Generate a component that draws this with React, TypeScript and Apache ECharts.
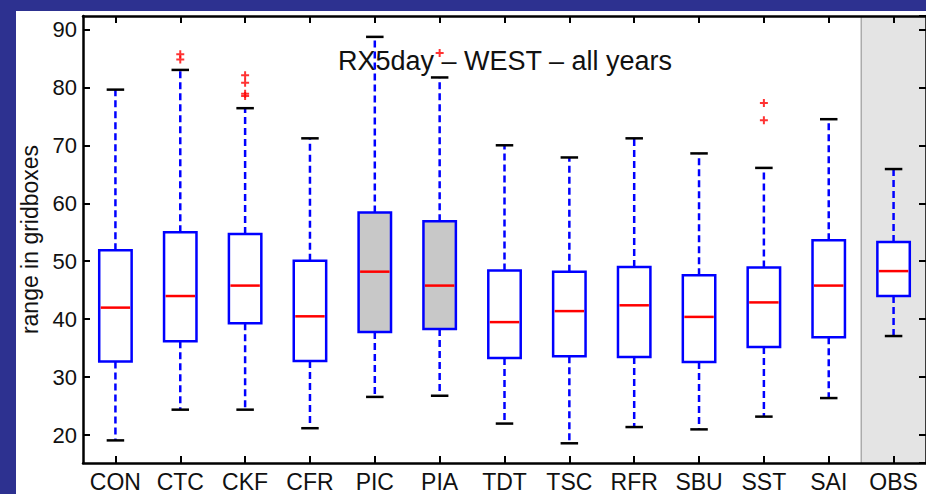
import React, { useEffect, useRef } from "react";
import * as echarts from "echarts";

const categories = ["CON", "CTC", "CKF", "CFR", "PIC", "PIA", "TDT", "TSC", "RFR", "SBU", "SST", "SAI", "OBS"];
const lowerWhisker = [19.1, 24.4, 24.4, 21.2, 26.6, 26.8, 22.0, 18.6, 21.4, 21.0, 23.2, 26.4, 37.1];
const lowerQuartile = [32.7, 36.2, 39.3, 32.8, 37.8, 38.3, 33.3, 33.6, 33.5, 32.6, 35.2, 36.9, 44.0];
const medians = [42.0, 44.0, 45.8, 40.5, 48.2, 45.8, 39.5, 41.4, 42.4, 40.4, 42.9, 45.8, 48.3];
const upperQuartile = [51.9, 55.0, 54.7, 50.1, 58.4, 56.9, 48.4, 48.2, 49.0, 47.6, 48.9, 53.6, 53.3];
const upperWhisker = [79.6, 83.0, 76.4, 71.2, 88.7, 81.7, 70.0, 67.9, 71.2, 68.6, 66.1, 74.5, 65.9];
const filledBoxes = ["PIC", "PIA"];
const outlierCategories = ["CTC", "CTC", "CKF", "CKF", "CKF", "CKF", "PIA", "SST", "SST"];
const outlierValues = [85.7, 84.8, 82.1, 80.8, 78.9, 78.5, 85.9, 77.3, 74.3];
const observedCategory = "OBS";
const yMin = 15.2;
const yMax = 92.3;
const titleText = "RX5day – WEST – all years";
const yAxisName = "range in gridboxes";

const FONT = "'Liberation Sans', Arial, Helvetica, sans-serif";
const BLUE = "#0000ff";
const RED = "#ff0000";

export default function App() {
  const ref = useRef<HTMLDivElement>(null);

  useEffect(() => {
    if (!ref.current) return;
    const chart = echarts.init(ref.current, undefined, { renderer: "svg" });

    const boxData = categories.map((c, i) => [
      i,
      lowerWhisker[i],
      lowerQuartile[i],
      medians[i],
      upperQuartile[i],
      upperWhisker[i],
      filledBoxes.includes(c) ? 1 : 0,
    ]);
    const outlierData = outlierCategories.map((c, i) => [categories.indexOf(c), outlierValues[i]]);

    const plus = "path://M3,0 L5,0 L5,3 L8,3 L8,5 L5,5 L5,8 L3,8 L3,5 L0,5 L0,3 L3,3 Z";

    const option: any = {
      animation: false,
      backgroundColor: "#2d3190",
      graphic: [
        {
          type: "rect",
          z: -100,
          shape: { x: 16, y: 11, width: 926, height: 494 },
          style: { fill: "#ffffff" },
        },
        {
          type: "text",
          z: 100,
          x: 505,
          y: 61,
          style: {
            text: titleText,
            fill: "#111",
            font: `27px ${FONT}`,
            textAlign: "center",
            textVerticalAlign: "middle",
          },
        },
      ],
      grid: { left: 83, top: 16, width: 845, height: 447, containLabel: false },
      xAxis: [
        {
          type: "category",
          data: categories,
          position: "bottom",
          axisLine: { show: true, lineStyle: { color: "#000", width: 2.5 } },
          axisTick: { show: true, inside: true, alignWithLabel: true, interval: 0, length: 7, lineStyle: { color: "#000", width: 2 } },
          axisLabel: { color: "#111", fontSize: 23, fontFamily: FONT, margin: 7, interval: 0, hideOverlap: false },
          splitLine: { show: false },
        },
        {
          type: "category",
          data: categories,
          position: "top",
          axisLine: { show: true, lineStyle: { color: "#000", width: 2.5 } },
          axisTick: { show: true, inside: true, alignWithLabel: true, interval: 0, length: 7, lineStyle: { color: "#000", width: 2 } },
          axisLabel: { show: false, interval: 0 },
          splitLine: { show: false },
        },
      ],
      yAxis: [
        {
          type: "value",
          min: yMin,
          max: yMax,
          splitNumber: 8,
          position: "left",
          name: yAxisName,
          nameLocation: "middle",
          nameGap: 38,
          nameTextStyle: { color: "#111", fontSize: 23, fontFamily: FONT },
          axisLine: { show: true, lineStyle: { color: "#000", width: 2.5 } },
          axisTick: { show: true, inside: true, length: 7, lineStyle: { color: "#000", width: 2 } },
          axisLabel: { color: "#111", fontSize: 22, fontFamily: FONT, margin: 6, showMinLabel: false, showMaxLabel: false },
          splitLine: { show: false },
        },
        {
          type: "value",
          min: yMin,
          max: yMax,
          splitNumber: 8,
          position: "right",
          axisLine: { show: true, lineStyle: { color: "#000", width: 2.5 } },
          axisTick: { show: true, inside: true, length: 7, lineStyle: { color: "#000", width: 2 } },
          axisLabel: { show: false },
          splitLine: { show: false },
        },
      ],
      series: [
        {
          type: "custom",
          name: "obs-shade",
          z: -10,
          silent: true,
          data: [[categories.indexOf(observedCategory), yMin]],
          encode: { x: 0, y: 1 },
          renderItem: (params: any, api: any) => {
            const cs = params.coordSys;
            const c = api.coord([api.value(0), api.value(1)]);
            const bw = api.size([1, 0])[0];
            const left = c[0] - bw / 2;
            return {
              type: "group",
              children: [
                {
                  type: "rect",
                  shape: { x: left, y: cs.y, width: cs.x + cs.width - left, height: cs.height },
                  style: { fill: "#e4e4e4" },
                },
                {
                  type: "line",
                  shape: { x1: left, y1: cs.y, x2: left, y2: cs.y + cs.height },
                  style: { stroke: "#8a8a8a", lineWidth: 1 },
                },
              ],
            };
          },
        },
        {
          type: "custom",
          name: "boxes",
          z: 3,
          data: boxData,
          encode: { x: 0, y: [1, 2, 3, 4, 5] },
          renderItem: (params: any, api: any) => {
            const x = api.value(0);
            const lo = api.coord([x, api.value(1)]);
            const qa = api.coord([x, api.value(2)]);
            const md = api.coord([x, api.value(3)]);
            const qb = api.coord([x, api.value(4)]);
            const hi = api.coord([x, api.value(5)]);
            const filled = api.value(6) === 1;
            const bw = api.size([1, 0])[0];
            const boxW = bw * 0.5;
            const capW = bw * 0.27;
            const cx = lo[0];
            return {
              type: "group",
              children: [
                {
                  type: "line",
                  shape: { x1: cx, y1: qb[1], x2: cx, y2: hi[1] },
                  style: { stroke: BLUE, lineWidth: 2.5, lineDash: [7, 4] },
                },
                {
                  type: "line",
                  shape: { x1: cx, y1: qa[1], x2: cx, y2: lo[1] },
                  style: { stroke: BLUE, lineWidth: 2.5, lineDash: [7, 4] },
                },
                {
                  type: "line",
                  shape: { x1: cx - capW / 2, y1: hi[1], x2: cx + capW / 2, y2: hi[1] },
                  style: { stroke: "#000", lineWidth: 2.5 },
                },
                {
                  type: "line",
                  shape: { x1: cx - capW / 2, y1: lo[1], x2: cx + capW / 2, y2: lo[1] },
                  style: { stroke: "#000", lineWidth: 2.5 },
                },
                {
                  type: "rect",
                  shape: { x: cx - boxW / 2, y: qb[1], width: boxW, height: qa[1] - qb[1] },
                  style: { fill: filled ? "#c8c8c8" : "#ffffff", stroke: BLUE, lineWidth: 2.5 },
                },
                {
                  type: "line",
                  shape: { x1: cx - boxW / 2 + 1.5, y1: md[1], x2: cx + boxW / 2 - 1.5, y2: md[1] },
                  style: { stroke: RED, lineWidth: 2.5 },
                },
              ],
            };
          },
        },
        {
          type: "scatter",
          name: "outliers",
          z: 4,
          data: outlierData,
          symbol: plus,
          symbolSize: 8,
          itemStyle: { color: RED },
        },
      ],
    };

    chart.setOption(option);
    return () => chart.dispose();
  }, []);

  return (
    <div
      ref={ref}
      style={{ position: "fixed", left: 0, top: 0, width: 926, height: 494 }}
    />
  );
}
